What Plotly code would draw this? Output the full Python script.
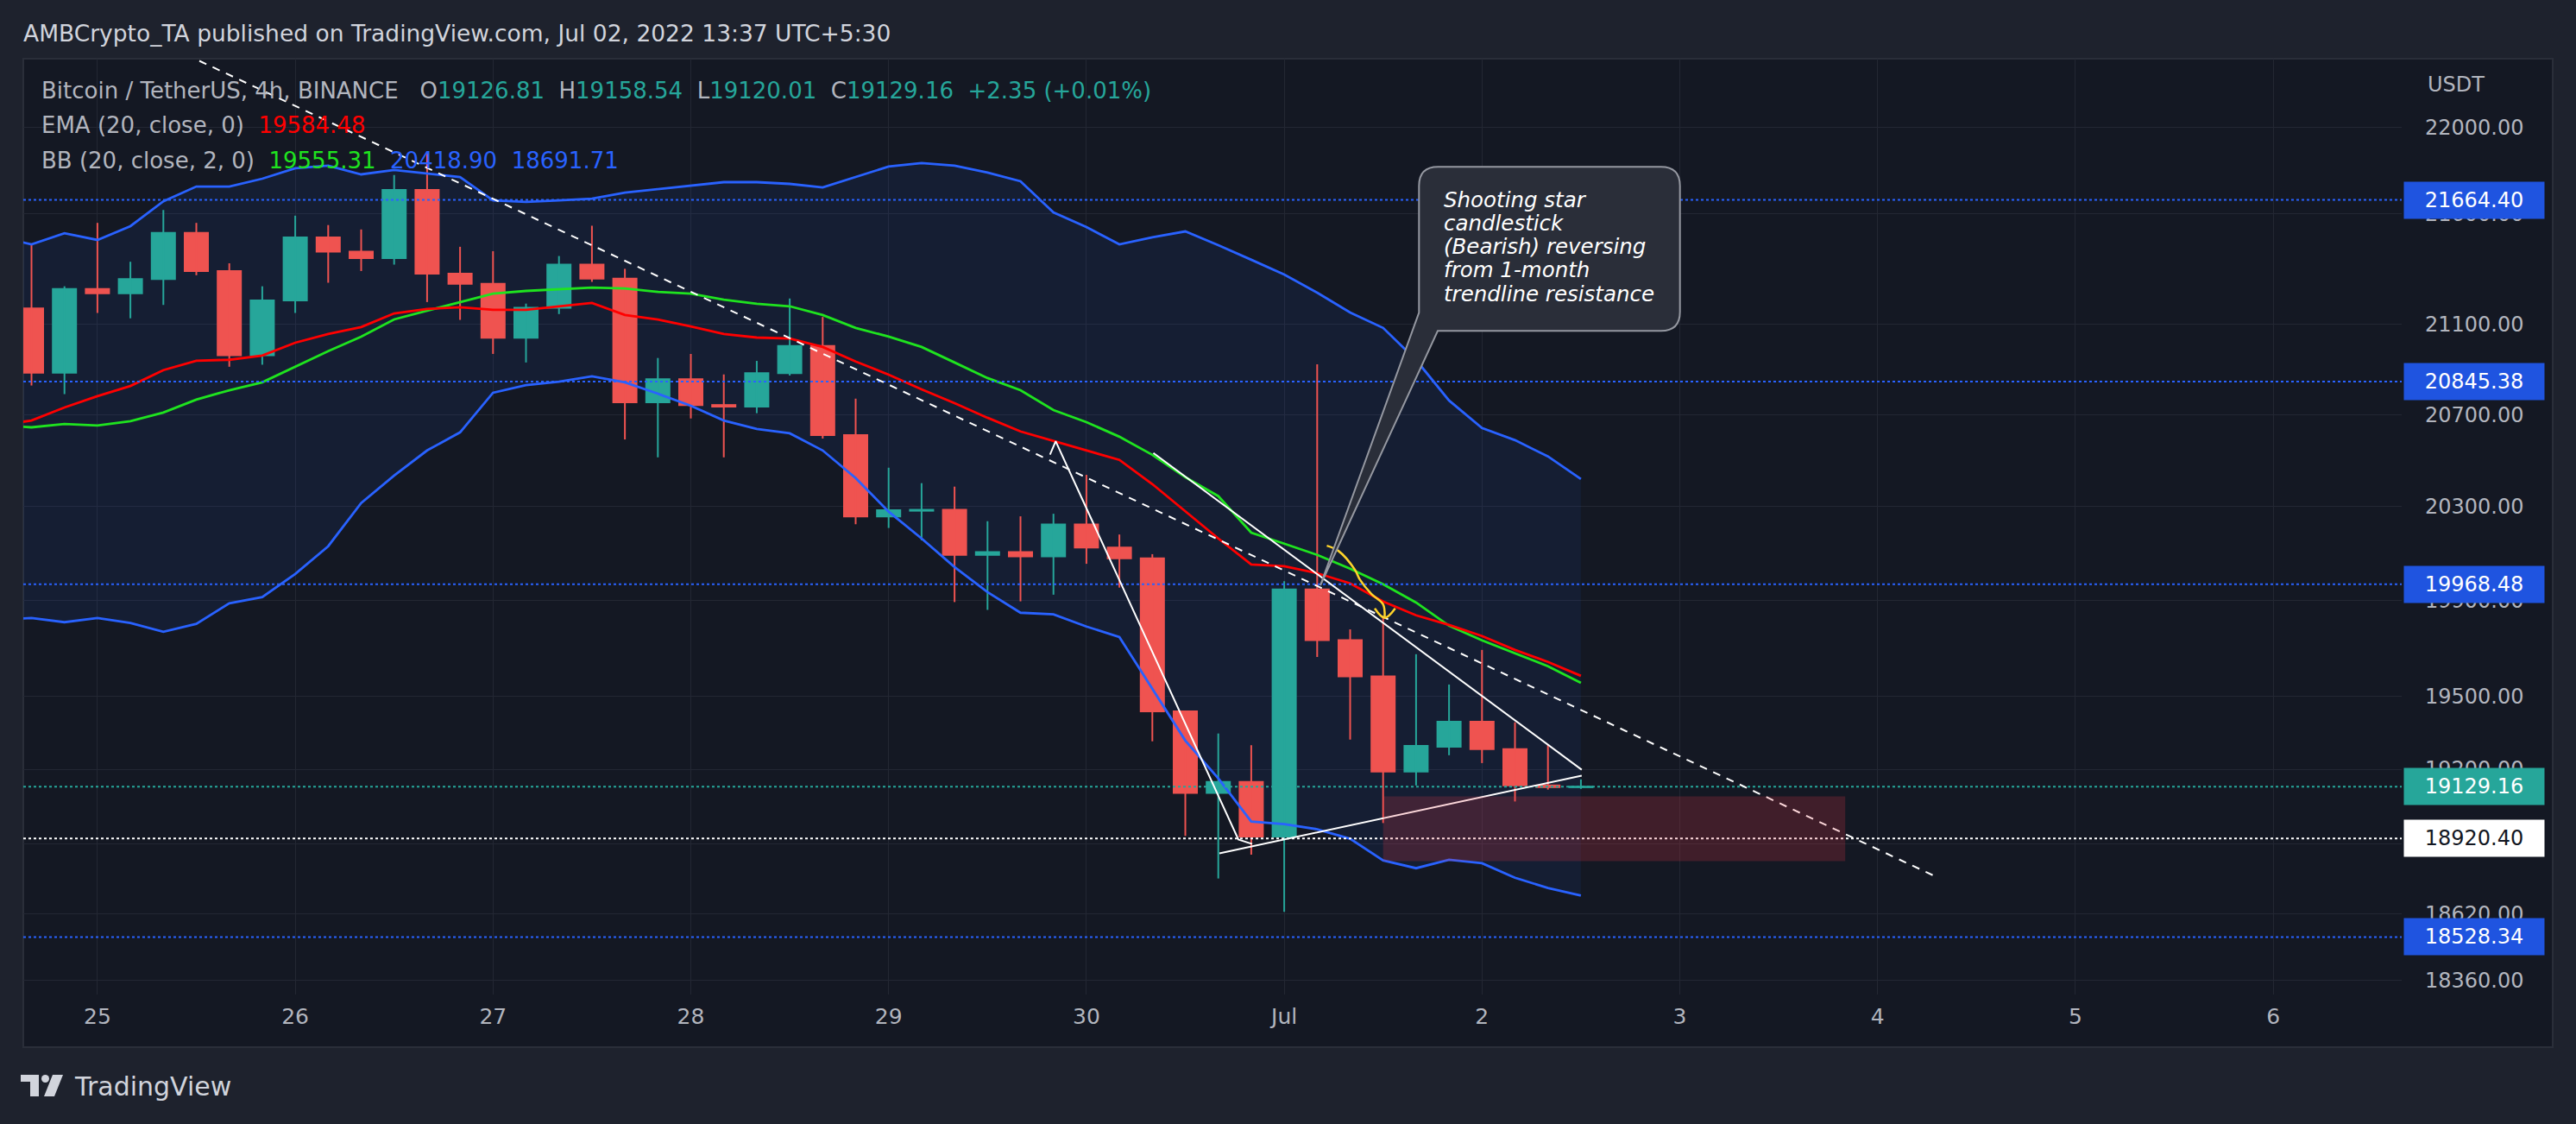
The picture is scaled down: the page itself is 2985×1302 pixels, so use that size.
import math
import pandas as pd
import plotly.graph_objects as go

# ---------------- data ----------------
candle_start = "2022-06-24 16:00"   # 4h candles
opens = [21171, 20885, 21259, 21239, 21304, 21513, 21340, 20962, 21207, 21493, 21428, 21398,
         21710, 21328, 21282, 21040, 21174, 21369, 21306, 20754, 20856, 20742, 20735, 20883,
         21003, 20610, 20257, 20282, 20286, 20093, 20105, 20087, 20223, 20124, 20078, 19437,
         19104, 19148, 18928, 19946, 19733, 19582, 19190, 19292, 19394, 19282, 19134, 19126.81]
highs = [21460, 21271, 21559, 21382, 21618, 21559, 21375, 21271, 21592, 21549, 21529, 21779,
         21882, 21450, 21430, 21193, 21408, 21546, 21350, 20950, 20968, 20877, 20937, 21216,
         21133, 20770, 20468, 20401, 20386, 20237, 20258, 20269, 20437, 20180, 20096, 19440,
         19346, 19298, 19981, 20922, 19778, 19829, 19674, 19548, 19692, 19392, 19301, 19158.54]
lows = [20828, 20790, 21151, 21127, 21187, 21321, 20911, 20920, 21151, 21287, 21340, 21369,
        21200, 21120, 20968, 20930, 21146, 21291, 20591, 20513, 20683, 20513, 20706, 20872,
        20595, 20224, 20208, 20155, 19893, 19860, 19896, 19924, 20055, 19954, 19314, 18930,
        18760, 18855, 18628, 19663, 19321, 18982, 19134, 19257, 19225, 19069, 19117, 19120.01]
closes = [20885, 21259, 21239, 21304, 21513, 21340, 20962, 21207, 21493, 21428, 21398, 21710,
          21328, 21282, 21040, 21174, 21369, 21306, 20754, 20856, 20742, 20735, 20883, 21003,
          20610, 20257, 20284, 20286, 20093, 20105, 20087, 20223, 20124, 20078, 19437, 19104,
          19148, 18928, 19946, 19733, 19582, 19190, 19295, 19394, 19282, 19134, 19127, 19129.16]

ind_start = "2022-06-24 12:00"
bb_upper = [21496, 21461, 21512, 21481, 21544, 21658, 21726, 21726, 21762, 21810, 21822, 21782,
            21802, 21786, 21770, 21662, 21655, 21662, 21670, 21698, 21714, 21730, 21746, 21746,
            21738, 21722, 21770, 21818, 21834, 21822, 21790, 21750, 21607, 21540, 21461, 21493,
            21520, 21457, 21391, 21324, 21242, 21153, 21084, 20941, 20762, 20641, 20588, 20517, 20419]
bb_basis = [20655, 20644, 20659, 20652, 20671, 20709, 20766, 20807, 20842, 20911, 20980, 21045,
            21122, 21161, 21200, 21238, 21250, 21258, 21265, 21261, 21246, 21238, 21211, 21192,
            21181, 21142, 21084, 21045, 20999, 20930, 20861, 20807, 20720, 20667, 20603, 20524,
            20427, 20345, 20188, 20141, 20093, 20034, 19968, 19891, 19793, 19732, 19678, 19624, 19555]
bb_lower = [19819, 19826, 19808, 19826, 19805, 19768, 19801, 19888, 19914, 20012, 20130, 20315,
            20434, 20543, 20622, 20796, 20830, 20845, 20869, 20842, 20792, 20739, 20674, 20637,
            20618, 20543, 20423, 20278, 20163, 20041, 19935, 19848, 19841, 19790, 19746, 19530,
            19317, 19163, 18988, 18978, 18957, 18919, 18832, 18801, 18835, 18821, 18763, 18722, 18692]
ema20 = [20652, 20674, 20731, 20781, 20826, 20896, 20938, 20942, 20961, 21018, 21057, 21088,
         21149, 21169, 21177, 21165, 21165, 21181, 21196, 21142, 21122, 21091, 21057, 21041,
         21037, 20999, 20934, 20876, 20811, 20750, 20686, 20626, 20584, 20543, 20502, 20397,
         20281, 20163, 20052, 20045, 20015, 19972, 19895, 19837, 19797, 19750, 19692, 19642, 19584]

levels_blue = [21664.40, 20845.38, 19968.48, 18528.34]
level_last = 19129.16
level_white = 18920.40

y_ticks = [22000, 21600, 21100, 20700, 20300, 19900, 19500, 19200, 18900, 18620, 18360]
x_tick_days = [0, 1, 2, 3, 4, 5, 6, 7, 8, 9, 10, 11]       # days after 25 Jun 2022
x_tick_text = ["25", "26", "27", "28", "29", "30", "Jul", "2", "3", "4", "5", "6"]

# user drawings: (days after 2022-06-25 00:00, price)
dash_days, dash_prices = [0.381, 9.2954], [22372, 18767]
drop_days, drop_prices = [4.8159, 4.8447, 5.7683, 5.8381], [20525, 20583, 18916, 18898]
wtop_days, wtop_prices = [5.3386, 7.5040], [20532, 19198]
wbot_days, wbot_prices = [5.6723, 7.5040], [18860, 19174]
arrow_days = [6.2155, 6.2740, 6.3573, 6.3826, 6.4411, 6.4996, 6.5079]
arrow_prices = [20132, 20110, 20030, 19988, 19927, 19884, 19830]
head_days, head_prices = [6.4577, 6.5079, 6.5611], [19866, 19826, 19866]
zone_days, zone_prices = [6.5, 8.8364], [18829, 19090]

view_days = [-0.3748, 11.6496]
view_prices = [18304, 22323]

# ---------------- styling ----------------
FONT = "DejaVu Sans"
UP, DN = "#26a69a", "#ef5350"
BLUE, GREEN, RED = "#2962ff", "#1fe31f", "#ff0000"
TXT = "#b2b5be"
GRID = "#232733"
W, H = 2985, 1302
L, R, T, B = 27, 2783, 68, 1152


def px(x):
    return (x - L) / (R - L)


def py(y):
    return (B - y) / (B - T)


base_t = pd.Timestamp("2022-06-25 00:00")


def TD(d):
    return base_t + pd.to_timedelta(d, unit="D")


ct = pd.date_range(candle_start, periods=len(opens), freq="4h")
it = pd.date_range(ind_start, periods=len(ema20), freq="4h")
xr = [TD(view_days[0]), TD(view_days[1])]
yr = [math.log10(view_prices[0]), math.log10(view_prices[1])]

fig = go.Figure()

# Bollinger background (base axis)
fig.add_trace(go.Scatter(x=it, y=bb_upper, mode="lines", line=dict(width=0), hoverinfo="skip",
                         yaxis="y"))
fig.add_trace(go.Scatter(x=it, y=bb_lower, mode="lines", line=dict(width=0), fill="tonexty",
                         fillcolor="rgba(33,100,243,0.08)", hoverinfo="skip", yaxis="y"))

# candles (overlay axis y2)
body_w = 27 / 229.2 * 86400000
n = len(opens)
up_idx = [i for i in range(n) if closes[i] >= opens[i]]
dn_idx = [i for i in range(n) if closes[i] < opens[i]]
for idx, col in ((up_idx, UP), (dn_idx, DN)):
    fig.add_trace(go.Bar(x=[ct[i] for i in idx],
                         y=[abs(closes[i] - opens[i]) for i in idx],
                         base=[min(opens[i], closes[i]) for i in idx],
                         width=body_w, marker=dict(color=col, line=dict(color=col, width=2)),
                         hoverinfo="skip", yaxis="y2"))
    wx, wy = [], []
    for i in idx:
        wx += [ct[i], ct[i], None]
        wy += [lows[i], highs[i], None]
    fig.add_trace(go.Scatter(x=wx, y=wy, mode="lines", line=dict(color=col, width=2),
                             hoverinfo="skip", yaxis="y2"))

# indicators (overlay axis y3)
for arr, col in ((bb_upper, BLUE), (bb_lower, BLUE), (bb_basis, GREEN), (ema20, RED)):
    fig.add_trace(go.Scatter(x=it, y=arr, mode="lines", line=dict(color=col, width=2.8),
                             hoverinfo="skip", yaxis="y3"))

# horizontal levels
for v in levels_blue:
    fig.add_trace(go.Scatter(x=xr, y=[v, v], mode="lines", line=dict(color=BLUE, width=2, dash="dot"),
                             hoverinfo="skip", yaxis="y3"))
fig.add_trace(go.Scatter(x=xr, y=[level_last, level_last], mode="lines",
                         line=dict(color=UP, width=2, dash="dot"), hoverinfo="skip", yaxis="y3"))
fig.add_trace(go.Scatter(x=xr, y=[level_white, level_white], mode="lines",
                         line=dict(color="#ffffff", width=2, dash="dot"), hoverinfo="skip", yaxis="y3"))

# trend lines
fig.add_trace(go.Scatter(x=[TD(d) for d in dash_days], y=dash_prices, mode="lines",
                         line=dict(color="#ffffff", width=2, dash="9px,8px"), hoverinfo="skip", yaxis="y3"))
for dd, pp in ((drop_days, drop_prices), (wtop_days, wtop_prices), (wbot_days, wbot_prices)):
    fig.add_trace(go.Scatter(x=[TD(d) for d in dd], y=pp, mode="lines",
                             line=dict(color="#ffffff", width=2), hoverinfo="skip", yaxis="y3"))
for dd, pp in ((arrow_days, arrow_prices), (head_days, head_prices)):
    fig.add_trace(go.Scatter(x=[TD(d) for d in dd], y=pp, mode="lines",
                             line=dict(color="#ffd42a", width=2.5, shape="spline"),
                             hoverinfo="skip", yaxis="y3"))

# red demand zone
zx = [TD(zone_days[0]), TD(zone_days[1]), TD(zone_days[1]), TD(zone_days[0]), TD(zone_days[0])]
zy = [zone_prices[1], zone_prices[1], zone_prices[0], zone_prices[0], zone_prices[1]]
fig.add_trace(go.Scatter(x=zx, y=zy, mode="lines", fill="toself", fillcolor="rgba(242,54,69,0.2)",
                         line=dict(width=0), hoverinfo="skip", yaxis="y3"))

shapes = []
# chart pane background
shapes.append(dict(type="rect", xref="paper", yref="paper", x0=px(27), x1=px(2958), y0=py(1213),
                   y1=py(68), fillcolor="#141823", line=dict(color="#2a2e39", width=2), layer="below"))

# callout with tail
bx0, by0, bx1, by1, rr = 1644.3, 193.3, 1946.7, 383.3, 22
pts = [("M", bx0 + rr, by0), ("L", bx1 - rr, by0), ("Q", bx1, by0, bx1, by0 + rr),
       ("L", bx1, by1 - rr), ("Q", bx1, by1, bx1 - rr, by1), ("L", 1666, by1), ("L", 1530, 678),
       ("L", bx0, 362), ("L", bx0, by0 + rr), ("Q", bx0, by0, bx0 + rr, by0)]
path = ""
for p in pts:
    cmd = p[0]
    coords = p[1:]
    segs = []
    for k in range(0, len(coords), 2):
        segs.append(f"{px(coords[k]):.5f},{py(coords[k + 1]):.5f}")
    path += cmd + " ".join(segs) + " "
path += "Z"
shapes.append(dict(type="path", xref="paper", yref="paper", path=path, fillcolor="#2a2e39",
                   line=dict(color="#9598a1", width=2), layer="above"))

# TradingView logo
logo = "#d1d4dc"
tpath = (f"M{px(24)},{py(1245)} L{px(45)},{py(1245)} L{px(45)},{py(1270)} L{px(35)},{py(1270)} "
         f"L{px(35)},{py(1253)} L{px(24)},{py(1253)} Z")
shapes.append(dict(type="path", xref="paper", yref="paper", path=tpath, fillcolor=logo,
                   line=dict(width=0)))
shapes.append(dict(type="circle", xref="paper", yref="paper", x0=px(48), x1=px(57), y0=py(1254),
                   y1=py(1245), fillcolor=logo, line=dict(width=0)))
spath = (f"M{px(61)},{py(1245)} L{px(73)},{py(1245)} L{px(63)},{py(1270)} L{px(51)},{py(1270)} Z")
shapes.append(dict(type="path", xref="paper", yref="paper", path=spath, fillcolor=logo,
                   line=dict(width=0)))

ann = []


def text_at(x, y, s, size=25, color=TXT, xanchor="left", italic=False):
    ann.append(dict(xref="paper", yref="paper", x=px(x), y=py(y), text=s, showarrow=False,
                    xanchor=xanchor, yanchor="middle", align="left",
                    font=dict(family=FONT, size=size, color=color,
                              style="italic" if italic else "normal")))


def col(s, c):
    return f"<span style='color:{c}'>{s}</span>"


sp2 = "\u00a0\u00a0"
sp3 = "\u00a0\u00a0\u00a0"
text_at(25, 38, "AMBCrypto_TA published on TradingView.com, Jul 02, 2022 13:37 UTC+5:30",
        size=26.5, color="#d1d4dc")
chg = closes[-1] - opens[-1]
line2 = ("Bitcoin / TetherUS, 4h, BINANCE" + sp3 +
         "O" + col(f"{opens[-1]:.2f}", UP) + sp2 +
         "H" + col(f"{highs[-1]:.2f}", UP) + sp2 +
         "L" + col(f"{lows[-1]:.2f}", UP) + sp2 +
         "C" + col(f"{closes[-1]:.2f}", UP) + sp2 +
         col(f"+{chg:.2f} (+{chg / opens[-1] * 100:.2f}%)", UP))
text_at(45.6, 105, line2, size=26)
text_at(45.6, 145, "EMA (20, close, 0)" + sp2 + col("19584.48", RED), size=26)
text_at(45.6, 186, "BB (20, close, 2, 0)" + sp2 + col("19555.31", GREEN) + sp2 +
        col("20418.90", BLUE) + sp2 + col("18691.71", BLUE), size=26)

# callout text
callout_lines = ["Shooting star", "candlestick", "(Bearish) reversing", "from 1-month",
                 "trendline resistance"]
for k, s in enumerate(callout_lines):
    text_at(1671, 231 + k * 27.25, s, size=24.5, color="#ffffff", italic=True)

# USDT
text_at(2811, 97.5, "USDT", size=24)
# logo text
text_at(84, 1258, "TradingView", size=30, color="#d1d4dc")

# price labels
price_labels = [(levels_blue[0], "#1f54e0", "#ffffff"), (levels_blue[1], "#1f54e0", "#ffffff"),
                (levels_blue[2], "#1f54e0", "#ffffff"), (level_last, UP, "#ffffff"),
                (level_white, "#ffffff", "#131722"), (levels_blue[3], "#1f54e0", "#ffffff")]
for v, bg, fg in price_labels:
    ann.append(dict(xref="paper", yref="y", x=px(2785), y=math.log10(v), text=f"{v:.2f}",
                    showarrow=False, xanchor="left", yanchor="middle", align="center",
                    width=160, height=40, borderpad=1, bgcolor=bg,
                    font=dict(family=FONT, size=24, color=fg)))

fig.update_layout(
    width=W, height=H, autosize=False,
    margin=dict(l=L, r=W - R, t=T, b=H - B, pad=0),
    paper_bgcolor="#1e222d", plot_bgcolor="rgba(0,0,0,0)",
    showlegend=False, barmode="overlay", dragmode=False,
    shapes=shapes, annotations=ann,
    xaxis=dict(type="date", range=xr, tickvals=[TD(d) for d in x_tick_days], ticktext=x_tick_text,
               showgrid=True, gridcolor=GRID, gridwidth=1, zeroline=False, showline=False, ticks="",
               tickfont=dict(family=FONT, size=25, color=TXT), ticklabelstandoff=8, fixedrange=True),
    yaxis=dict(type="log", range=yr, side="right", tickvals=y_ticks,
               ticktext=[f"{v:.2f}" for v in y_ticks], showgrid=True, gridcolor=GRID, gridwidth=1,
               zeroline=False, showline=False, ticks="",
               tickfont=dict(family=FONT, size=24, color=TXT), ticklabelstandoff=26, fixedrange=True),
    yaxis2=dict(type="log", range=yr, overlaying="y", anchor="x", visible=False, fixedrange=True),
    yaxis3=dict(type="log", range=yr, overlaying="y", anchor="x", visible=False, fixedrange=True),
)

fig.write_html("out.html", config={"displayModeBar": False, "staticPlot": True})
